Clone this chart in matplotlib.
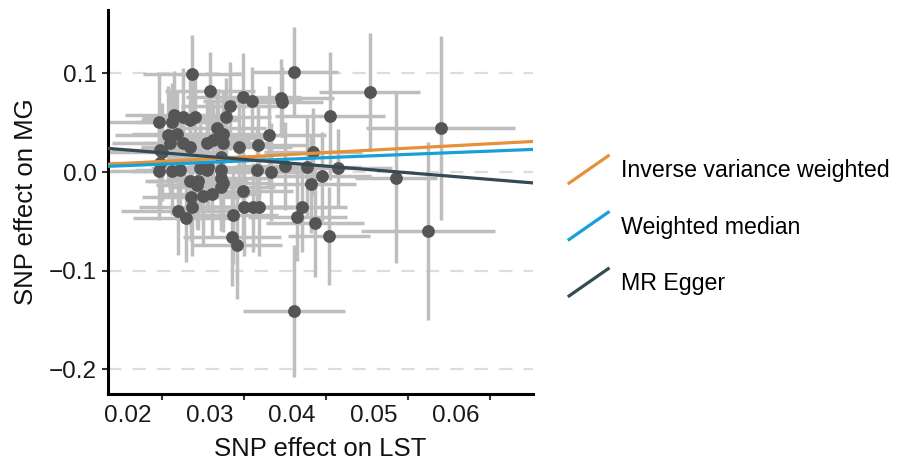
import matplotlib
matplotlib.use("Agg")
import matplotlib.pyplot as plt
from matplotlib.lines import Line2D
from matplotlib.legend_handler import HandlerLine2D
import numpy as np

plt.rcParams['font.family'] = ['Liberation Sans', 'DejaVu Sans']

# SNP effects
lst_beta = [0.0278, 0.0403, 0.0300, 0.0341, 0.0352, 0.0387, 0.0388, 0.0325, 0.0320, 0.0238,
            0.0256, 0.0254, 0.0267, 0.0276, 0.0282, 0.0309, 0.0249, 0.0260, 0.0316, 0.0251,
            0.0267, 0.0297, 0.0304, 0.0310, 0.0316, 0.0276, 0.0335, 0.0359, 0.0372, 0.0242,
            0.0313, 0.0426, 0.0238, 0.0254, 0.0264, 0.0288, 0.0297, 0.0313, 0.0358, 0.0375,
            0.0392, 0.0419, 0.0437, 0.0457, 0.0276, 0.0286, 0.0284, 0.0313, 0.0316, 0.0314,
            0.0341, 0.0424, 0.0277, 0.0292, 0.0303, 0.0278, 0.0261, 0.0271, 0.0328, 0.0342,
            0.0353, 0.0360, 0.0412, 0.0407, 0.0428, 0.0445, 0.0327, 0.0333, 0.0403, 0.0495,
            0.0447, 0.0582, 0.0527, 0.0566, 0.0239, 0.0298, 0.0239]
mg_beta = [0.0993, 0.1013, 0.0821, 0.0760, 0.0719, 0.0750, 0.0709, 0.0669, 0.0557, 0.0507,
           0.0578, 0.0507, 0.0557, 0.0527, 0.0557, 0.0446, 0.0375, 0.0385, 0.0385, 0.0294,
           0.0294, 0.0294, 0.0324, 0.0344, 0.0294, 0.0253, 0.0253, 0.0274, 0.0375, 0.0203,
           0.0152, 0.0203, 0.0010, 0.0010, 0.0020, 0.0041, 0.0020, 0.0020, 0.0020, 0.0000,
           0.0061, 0.0051, -0.0041, 0.0041, -0.0091, -0.0091, -0.0132, -0.0061, -0.0111, -0.0152,
           -0.0193, -0.0122, -0.0253, -0.0243, -0.0223, -0.0355, -0.0395, -0.0466, -0.0436, -0.0355,
           -0.0355, -0.0355, -0.0355, -0.0456, -0.0517, -0.0648, -0.0659, -0.0740, -0.1408, 0.0811,
           0.0567, 0.0446, -0.0061, -0.0598, 0.0223, 0.0051, 0.0091]
lst_se = [0.0060, 0.0053, 0.0055, 0.0070, 0.0060, 0.0065, 0.0050, 0.0060, 0.0055, 0.0070,
          0.0060, 0.0045, 0.0050, 0.0060, 0.0055, 0.0060, 0.0065, 0.0055, 0.0060, 0.0070,
          0.0050, 0.0055, 0.0045, 0.0060, 0.0055, 0.0060, 0.0065, 0.0060, 0.0070, 0.0065,
          0.0055, 0.0060, 0.0060, 0.0050, 0.0055, 0.0060, 0.0050, 0.0060, 0.0065, 0.0055,
          0.0060, 0.0065, 0.0060, 0.0065, 0.0055, 0.0060, 0.0050, 0.0060, 0.0055, 0.0065,
          0.0060, 0.0055, 0.0060, 0.0055, 0.0060, 0.0065, 0.0070, 0.0065, 0.0055, 0.0060,
          0.0055, 0.0060, 0.0055, 0.0060, 0.0060, 0.0050, 0.0060, 0.0055, 0.0062, 0.0062,
          0.0067, 0.0091, 0.0050, 0.0082, 0.0060, 0.0055, 0.0065]
mg_se = [0.040, 0.046, 0.040, 0.045, 0.035, 0.040, 0.035, 0.045, 0.040, 0.050,
         0.045, 0.040, 0.050, 0.045, 0.045, 0.040, 0.050, 0.045, 0.045, 0.055,
         0.040, 0.045, 0.040, 0.050, 0.045, 0.045, 0.050, 0.040, 0.050, 0.050,
         0.045, 0.045, 0.050, 0.045, 0.050, 0.045, 0.040, 0.050, 0.045, 0.050,
         0.045, 0.050, 0.045, 0.040, 0.045, 0.050, 0.045, 0.045, 0.050, 0.045,
         0.050, 0.050, 0.045, 0.050, 0.045, 0.050, 0.045, 0.045, 0.050, 0.050,
         0.045, 0.050, 0.045, 0.045, 0.055, 0.050, 0.050, 0.055, 0.067, 0.060,
         0.065, 0.093, 0.086, 0.090, 0.045, 0.045, 0.050]

# MR estimates (intercept, slope)
methods = ["Inverse variance weighted", "Weighted median", "MR Egger"]
intercepts = [0.0, 0.0, 0.0358]
slopes = [0.446, 0.33, -0.674]
colors = ["#E6913A", "#18A0D8", "#344B55"]

x_ticks = [0.02, 0.03, 0.04, 0.05, 0.06]
y_ticks = [0.1, 0.0, -0.1, -0.2]


class DiagHandler(HandlerLine2D):
    def create_artists(self, legend, orig_handle, xdescent, ydescent, width, height, fontsize, trans):
        ln = Line2D([-xdescent, -xdescent + width], [-ydescent, -ydescent + height],
                    color=orig_handle.get_color(), lw=orig_handle.get_linewidth(),
                    solid_capstyle='butt')
        ln.set_transform(trans)
        return [ln]


fig = plt.figure(figsize=(9.07, 4.61), dpi=100)
ax = fig.add_axes([0.119, 0.145, 0.469, 0.833])

ax.errorbar(lst_beta, mg_beta, xerr=lst_se, yerr=mg_se, fmt='none',
            ecolor='#BEBEBE', elinewidth=2.5, capsize=0, zorder=2)
ax.scatter(lst_beta, mg_beta, s=85, color='#555555', zorder=3, linewidths=0)

handles = []
for name, b0, b1, c in zip(methods, intercepts, slopes, colors):
    ax.axline((0, b0), slope=b1, color=c, lw=2.3, zorder=4)
    handles.append(Line2D([], [], color=c, lw=2.3, label=name))

ax.set_xlim(0.01755, 0.0695)
ax.set_ylim(-0.225, 0.164)

for yt in y_ticks:
    ax.axhline(yt, color='#DDDDDD', lw=1.6, dashes=(6, 5), zorder=1)

ax.set_xticks(x_ticks)
ax.set_xticklabels([f"{v:.2f}" for v in x_ticks])
ax.set_xticks([v + 0.00416 for v in x_ticks], minor=True)
ax.tick_params(axis='x', which='major', length=0, pad=8, labelsize=17.5, labelcolor='#1a1a1a')
ax.tick_params(axis='x', which='minor', length=4, width=1.5, color='#333333')
ax.set_yticks(y_ticks)
ax.set_yticklabels(["0.1", "0.0", "\u22120.1", "\u22120.2"])
ax.tick_params(axis='y', length=4, width=1.5, color='#333333', pad=4,
               labelsize=17.5, labelcolor='#1a1a1a')

for s in ['top', 'right']:
    ax.spines[s].set_visible(False)
for s in ['left', 'bottom']:
    ax.spines[s].set_linewidth(2.2)
    ax.spines[s].set_color('black')

ax.set_xlabel("SNP effect on LST", fontsize=18.5, labelpad=7, color='#111111')
ax.set_ylabel("SNP effect on MG", fontsize=18.5, labelpad=8, color='#111111')

fig.legend(handles=handles, loc='center left', bbox_to_anchor=(0.626, 0.51),
           frameon=False, fontsize=16.7, handlelength=1.8, handleheight=1.55,
           labelspacing=1.18, handletextpad=0.5, borderpad=0, borderaxespad=0,
           handler_map={Line2D: DiagHandler()})

fig.savefig("out.png", dpi=100)
